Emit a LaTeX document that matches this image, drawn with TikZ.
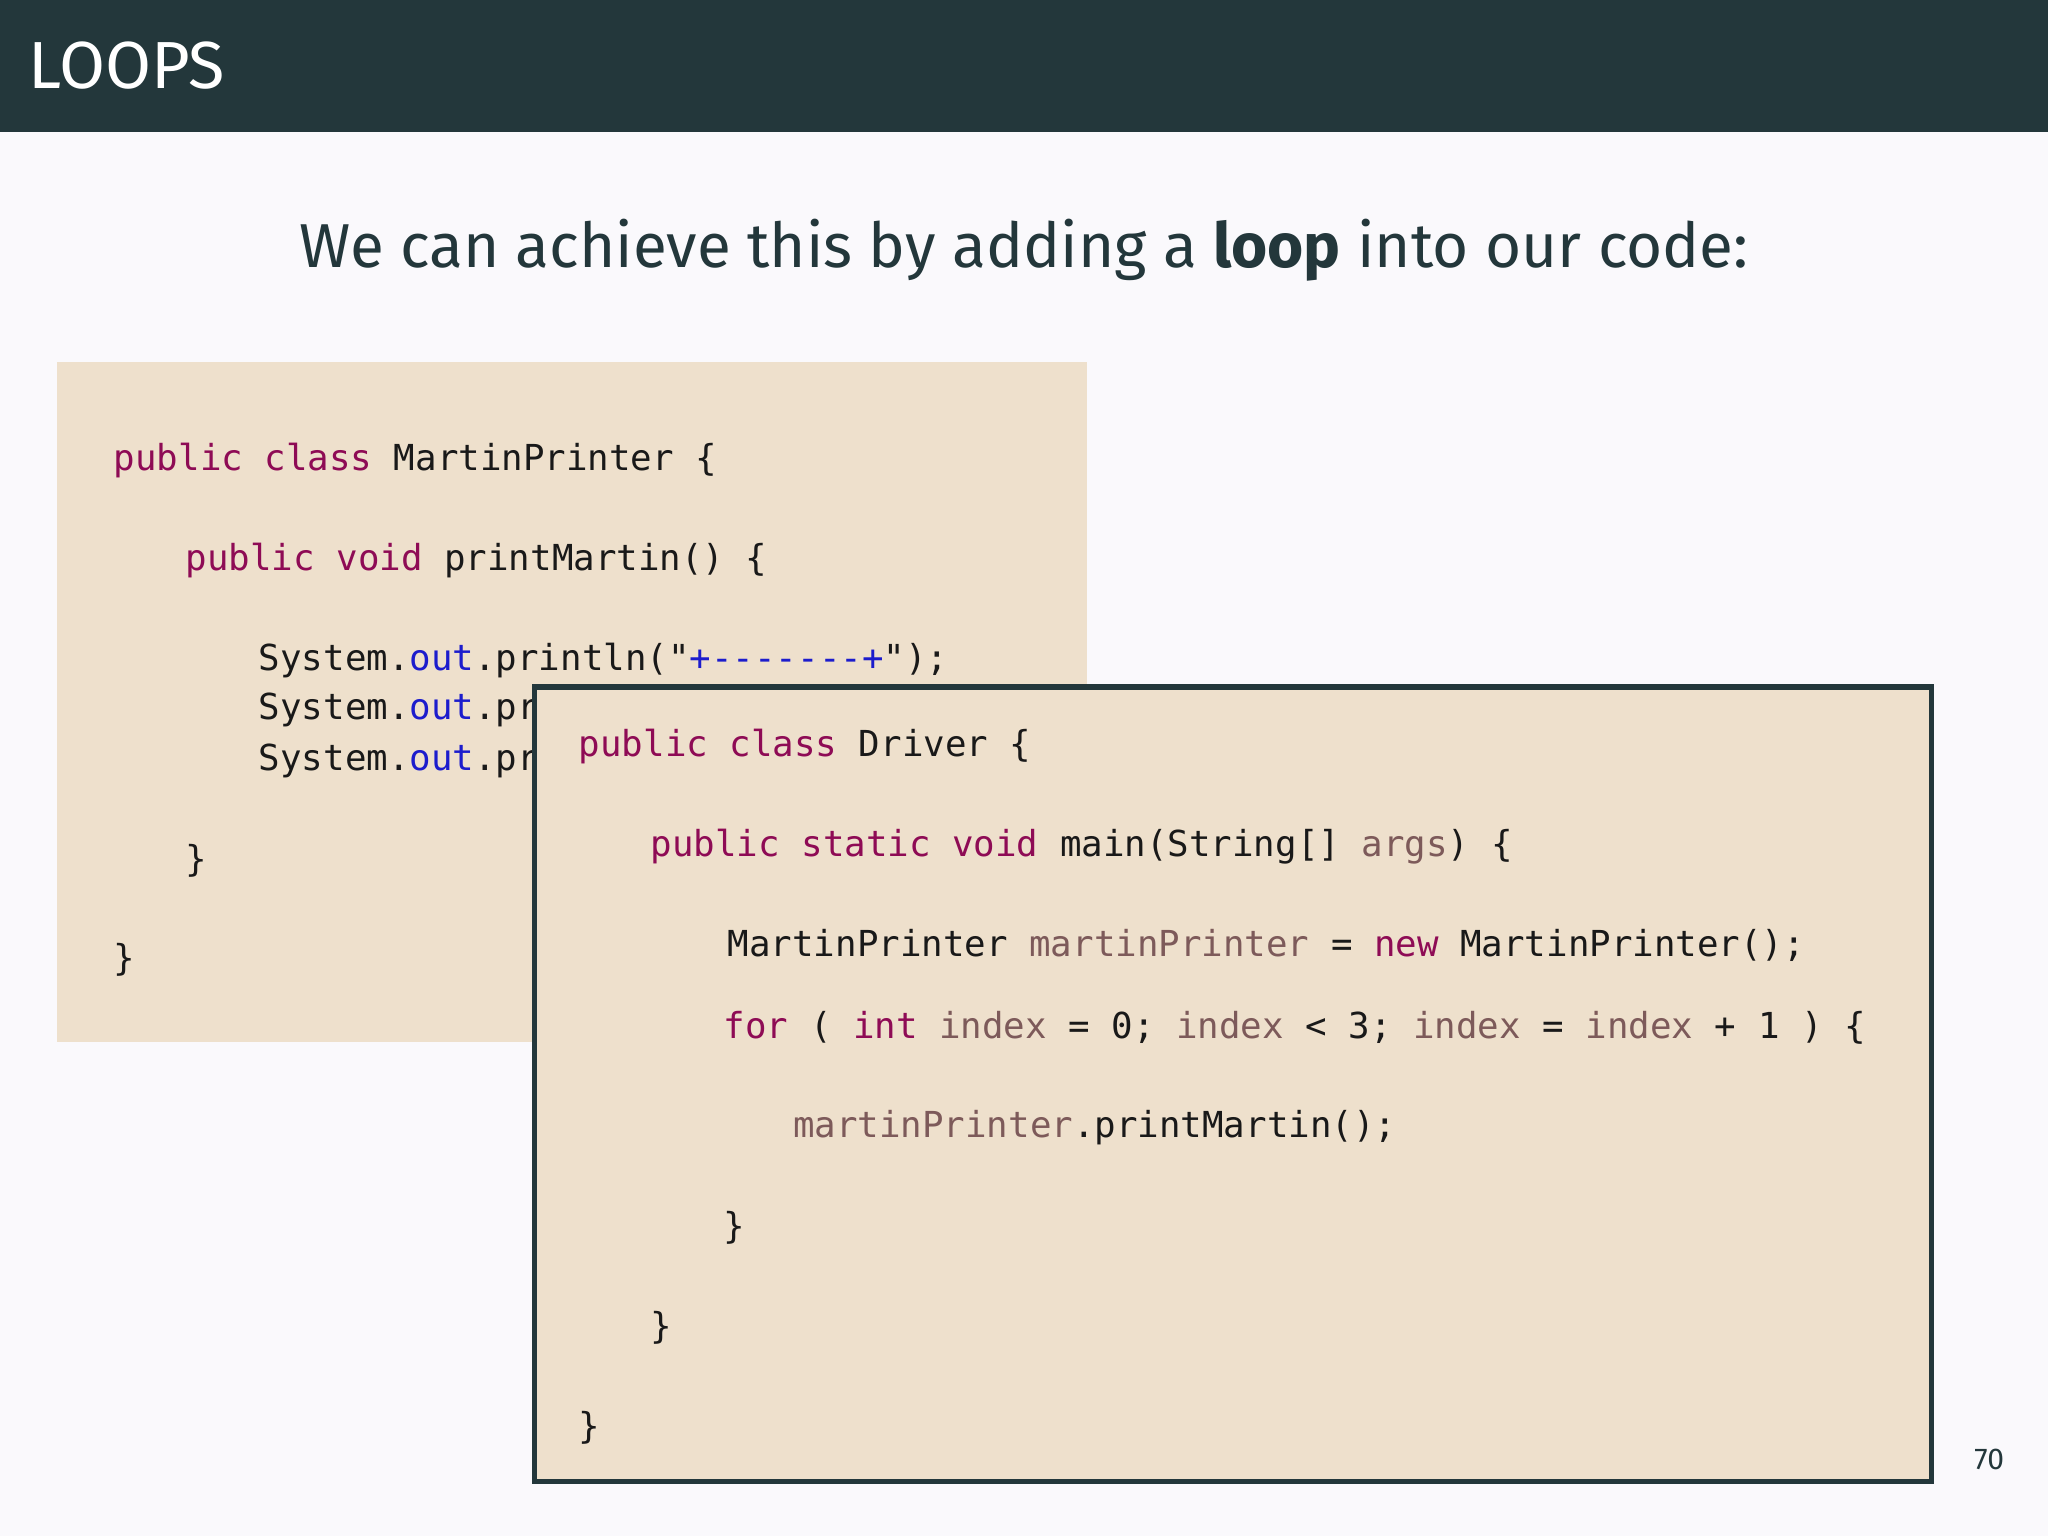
\documentclass[tikz,border=0pt]{standalone}
\usepackage{fontspec}
\setmainfont{Fira Sans}
\newfontfamily\codefont{DejaVu Sans Mono}
\definecolor{bar}{HTML}{23373B}
\definecolor{bg}{HTML}{FAF9FC}
\definecolor{beige}{HTML}{EEE0CC}
\definecolor{kw}{HTML}{8E0B55}
\definecolor{var}{HTML}{7D5A5A}
\definecolor{bl}{HTML}{1C1CCC}
\newcommand{\K}[1]{\textcolor{kw}{#1}}
\newcommand{\V}[1]{\textcolor{var}{#1}}
\newcommand{\B}[1]{\textcolor{bl}{#1}}
\tikzset{code/.style={anchor=base west,inner sep=0pt,font=\codefont\fontsize{27.4}{31}\selectfont,text=black!90}}
\begin{document}
\begin{tikzpicture}[x=1pt,y=-1pt]
\fill[bg] (0,0) rectangle (1568,1176);
\fill[bar] (0,0) rectangle (1568,101);
\node[anchor=base west,inner sep=0pt,text=white,font=\fontsize{51}{56}\selectfont] (t) at (22,68) {LOOPS};
\node[anchor=base,inner sep=0pt,text=bar,font=\fontsize{47.5}{52}\selectfont] (s) at (784,205) {We can achieve this by adding a \textbf{loop} into our code:};
\fill[beige] (44,277) rectangle (832,798);
\node[code] (a1) at (87,360) {\K{public class} MartinPrinter \{};
\node[code] (a2) at (142,437) {\K{public void} printMartin() \{};
\node[code] (a3) at (198,513) {System.\B{out}.println("\B{+-------+}");};
\node[code] (a4) at (198,551) {System.\B{out}.pr};
\node[code] (a5) at (198,590) {System.\B{out}.pr};
\node[code] (a6) at (142,667) {\}};
\node[code] (a7) at (87,743) {\}};
\draw[bar,line width=4,fill=beige] (409,526) rectangle (1479,1134);
\node[code] (b1) at (443,579) {\K{public class} Driver \{};
\node[code] (b2) at (498,656) {\K{public static void} main(String[] \V{args}) \{};
\node[code] (b3) at (557,732) {MartinPrinter \V{martinPrinter} = \K{new} MartinPrinter();};
\node[code] (b4) at (554,795) {\K{for} ( \K{int} \V{index} = 0; \V{index} < 3; \V{index} = \V{index} + 1 ) \{};
\node[code] (b5) at (607,871) {\V{martinPrinter}.printMartin();};
\node[code] (b6) at (554,948) {\}};
\node[code] (b7) at (498,1025) {\}};
\node[code] (b8) at (443,1101) {\}};
\node[anchor=base,inner sep=0pt,text=bar,font=\fontsize{23}{26}\selectfont] (p) at (1523,1125) {70};
\end{tikzpicture}
\end{document}
